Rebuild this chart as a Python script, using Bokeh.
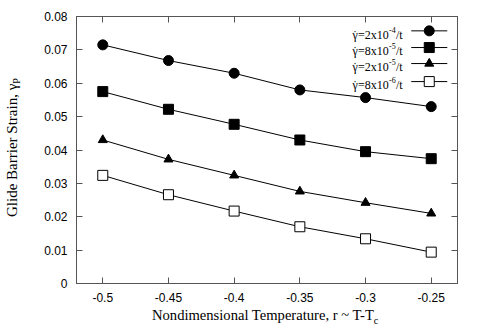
from bokeh.plotting import figure
from bokeh.models import Range1d, LinearAxis, FixedTicker, Label, Div
from bokeh.layouts import row, column
from bokeh.embed import file_html
from bokeh.resources import INLINE

x = [-0.5, -0.45, -0.4, -0.35, -0.3, -0.25]
s1 = [0.0715, 0.0668, 0.0630, 0.0580, 0.0557, 0.0530]
s2 = [0.0575, 0.0522, 0.0477, 0.0430, 0.0395, 0.0374]
s3 = [0.0430, 0.0372, 0.0324, 0.0276, 0.0242, 0.0210]
s4 = [0.0324, 0.0266, 0.0217, 0.0170, 0.0134, 0.0094]
label_main = ["=2x10", "=8x10", "=2x10", "=8x10"]
label_exp = ["-4", "-5", "-5", "-6"]
xticks = [-0.5, -0.45, -0.4, -0.35, -0.3, -0.25]
yticks = [0, 0.01, 0.02, 0.03, 0.04, 0.05, 0.06, 0.07, 0.08]
xtitle = "Nondimensional Temperature, r ~ T-T"
xtitle_sub = "c"
ytitle = "Glide Barrier Strain, γ"
ytitle_sub = "P"

FL, FB = 76, 283  # frame left / bottom in page px (for legend text placement)

p = figure(width=434, height=300, output_backend="svg", toolbar_location=None,
           x_range=Range1d(-0.52, -0.23), y_range=Range1d(0, 0.08),
           x_axis_location=None, y_axis_location=None,
           frame_width=381, frame_height=267,
           min_border_left=38, min_border_right=15, min_border_top=8, min_border_bottom=25,
           margin=0)
p.background_fill_color = "white"
p.border_fill_color = "white"
p.outline_line_color = "#555555"
p.grid.visible = False

def mk_axis(ticks, show):
    ax = LinearAxis(ticker=FixedTicker(ticks=ticks))
    ax.major_tick_in = 6
    ax.major_tick_out = 0
    ax.minor_tick_in = 0
    ax.minor_tick_out = 0
    ax.axis_line_color = "#555555"
    ax.major_tick_line_color = "#555555"
    if show:
        ax.major_label_text_font = "Liberation Sans"
        ax.major_label_text_font_size = "12px"
        ax.major_label_text_color = "black"
        ax.major_label_standoff = 9
    else:
        ax.major_label_text_font_size = "0px"
        ax.major_label_text_alpha = 0
    return ax

yl = mk_axis(yticks, True)
yl.major_label_overrides = {0: "0"}
p.add_layout(yl, "left")
xb = mk_axis(xticks, True)
xb.major_label_overrides = {-0.5: "-0.5", -0.45: "-0.45", -0.4: "-0.4", -0.35: "-0.35", -0.3: "-0.3", -0.25: "-0.25"}
p.add_layout(xb, "below")
p.add_layout(mk_axis(yticks, False), "right")
p.add_layout(mk_axis(xticks, False), "above")

def lab(px, py, text, size, **kw):
    p.add_layout(Label(x=px - FL, y=FB - py, x_units="screen", y_units="screen", text=text,
                       text_font="Liberation Serif", text_font_size=size, text_color="black",
                       text_baseline="alphabetic", **kw))

series = [s1, s2, s3, s4]
markers = [("circle", 10, "black"), ("square", 10, "black"), ("triangle", 9, "black"), ("square", 10, "white")]
for s, (m, sz, fc) in zip(series, markers):
    p.line(x, s, line_color="black", line_width=1)
    p.scatter(x, s, marker=m, size=sz, fill_color=fc, line_color="black", line_width=1)

# legend (text left, sample right)
ly = [0.0757, 0.0707, 0.0659, 0.0605]
base = [34, 50.5, 66.5, 84.5]
for mtxt, etxt, yy, b, (m, sz, fc) in zip(label_main, label_exp, ly, base, markers):
    p.line([-0.2652, -0.2378], [yy, yy], line_color="black", line_width=1)
    p.scatter([-0.2515], [yy], marker=m, size=sz, fill_color=fc, line_color="black", line_width=1)
    lab(352, b, "γ", "12px", text_align="left")
    lab(354.6, b, "˙", "12px", text_align="center")
    lab(357.5, b, mtxt, "12px", text_align="left")
    lab(388.5, b - 5, etxt, "8px", text_align="left")
    lab(395.5, b, "/t", "12px", text_align="left")

font = "font-family:'Liberation Serif'; color:black; white-space:nowrap;"
ydiv = Div(width=38, height=300, margin=0, text=(
    '<div style="position:relative; width:38px; height:300px;">'
    '<div style="position:absolute; left:5px; top:209px; transform:rotate(-90deg); '
    'transform-origin:0 0; font-size:15px; line-height:15px; ' + font + '">'
    + ytitle + '<span style="font-size:10px; vertical-align:-3px;">' + ytitle_sub + '</span>'
    '</div></div>'))
xdiv = Div(width=434, height=20, margin=0, text=(
    '<div style="position:relative; width:434px; height:20px;">'
    '<div style="position:absolute; left:114px; top:0px; font-size:14.6px; line-height:15px; ' + font + '">'
    + xtitle + '<span style="font-size:10px; vertical-align:-4px;">' + xtitle_sub + '</span>'
    '</div></div>'))

layout = row(ydiv, column(p, xdiv, spacing=0), spacing=0, margin=(8, 0, 0, 0))
open("out.html", "w").write(file_html(layout, INLINE))
